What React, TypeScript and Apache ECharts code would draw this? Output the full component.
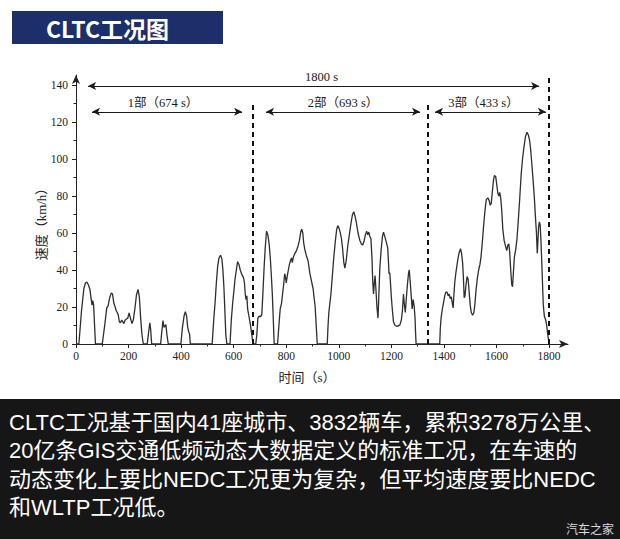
import React, { useEffect, useRef } from "react";
import * as echarts from "echarts";

// CLTC speed trace, [time (s), speed (km/h)]
const phase1: [number, number][] = [
  [0, 0], [11, 0], [21, 18], [30, 30], [36, 33], [41, 33.5], [47, 32], [53, 29.5], [58, 24], [61, 21], [64, 23.5], [67, 21], [70, 12], [74, 0],
  [100, 0], [110, 11], [117, 19.5], [122, 20.5], [128, 25], [134, 27.5], [139, 27], [144, 22], [149, 20], [153, 18], [157, 17], [161, 15.5], [165, 12], [169, 11.5], [174, 13], [178, 12], [182, 11], [187, 13], [192, 13.5], [197, 14], [202, 16.8], [207, 14], [213, 11], [218, 13], [224, 19], [230, 26.5], [236, 29.5], [241, 25.5], [246, 14], [251, 5], [256, 0],
  [271, 0], [276, 6], [281, 11.5], [284, 8], [288, 0],
  [322, 0], [326, 6], [331, 12.6], [335, 9], [338, 9.5], [342, 10.5], [346, 5], [351, 0],
  [399, 0], [405, 9], [411, 15], [416, 17.5], [421, 15], [425, 9], [429, 6.5], [432, 5.5], [435, 0],
  [518, 0], [524, 13], [529, 22], [534, 33], [539, 42], [544, 46.5], [550, 48], [555, 46], [559, 40], [563, 30], [567, 16], [570, 5], [574, 0],
  [586, 0], [591, 13], [596, 22], [601, 29], [605, 35], [610, 40], [615, 44.5], [620, 43], [625, 40], [631, 37.5], [637, 36], [641, 33], [644, 27], [647, 24], [650, 26], [653, 19], [658, 15], [663, 11], [668, 6], [672, 1.5], [676, 0],
];
const phase2: [number, number][] = [
  [684, 0], [688, 5], [692, 14], [697, 15], [703, 14.8], [707, 16], [711, 27], [716, 42], [720, 52], [725, 61], [730, 59], [735, 54], [740, 45], [744, 35], [747, 27], [751, 12], [754, 0],
  [767, 0], [772, 10], [777, 19], [782, 22], [786, 27], [790, 32], [794, 38], [797, 36], [800, 33], [804, 37], [808, 40], [812, 43], [816, 45], [820, 46.5], [823, 44], [827, 47], [833, 49], [839, 50.5], [845, 53], [850, 56], [855, 60.5], [859, 62], [863, 60], [866, 55], [870, 51.5], [876, 48], [883, 45], [890, 38], [896, 34], [902, 30], [906, 25], [910, 20], [914, 10], [918, 0],
  [956, 0], [959, 10], [962, 17], [966, 22], [970, 27], [976, 38], [981, 47], [987, 56], [992, 62], [996, 64], [1001, 62.5], [1005, 60.5], [1010, 57], [1014, 52], [1019, 44], [1023, 41], [1028, 45], [1034, 53], [1040, 59], [1046, 65], [1052, 70], [1057, 71.5], [1062, 69], [1067, 65.5], [1073, 60], [1080, 56], [1086, 54], [1091, 53.5], [1096, 55.5], [1101, 59], [1106, 61], [1110, 59], [1114, 60.5], [1118, 58], [1122, 57], [1126, 47], [1129, 34], [1132, 27], [1135, 33], [1138, 37], [1141, 30], [1145, 20], [1149, 14], [1152, 25], [1156, 41], [1161, 51], [1166, 58], [1170, 60.5], [1175, 58], [1180, 55.5], [1186, 52], [1189, 44], [1191, 38], [1194, 38.5], [1197, 32], [1200, 25], [1204, 18], [1208, 12], [1214, 10], [1222, 9.5], [1232, 10.2], [1238, 13], [1242, 18], [1246, 27], [1249, 22], [1253, 17], [1257, 25], [1261, 32], [1265, 38], [1268, 40], [1272, 33], [1276, 25], [1279, 19], [1283, 24], [1287, 20], [1290, 14], [1292, 6], [1294, 0],
];
const phase3: [number, number][] = [
  [1384, 0], [1386, 8], [1389, 14], [1394, 19], [1398, 22], [1403, 26], [1407, 28], [1412, 28], [1416, 26], [1420, 27], [1424, 24.5], [1428, 25.5], [1432, 22], [1435, 19.5], [1438, 27], [1441, 33], [1445, 38], [1449, 42], [1453, 46], [1458, 49.5], [1463, 51.5], [1467, 49], [1471, 44], [1474, 36], [1477, 25], [1480, 26], [1484, 32], [1488, 36.5], [1492, 35], [1496, 28], [1500, 21], [1504, 17], [1509, 15.5], [1514, 17], [1518, 22], [1522, 29], [1527, 35.5], [1532, 40], [1537, 43], [1541, 47], [1546, 55], [1551, 64], [1556, 72], [1561, 78], [1567, 79], [1572, 77.5], [1576, 75], [1580, 76], [1584, 82], [1588, 88], [1592, 91], [1597, 90.5], [1601, 86], [1605, 81.5], [1609, 80], [1612, 82], [1616, 79], [1620, 72], [1624, 62], [1629, 56], [1634, 53], [1639, 50.5], [1643, 53.5], [1647, 54], [1650, 50], [1654, 40], [1658, 32], [1661, 31], [1664, 38], [1668, 47], [1673, 51], [1678, 57], [1683, 67], [1688, 78], [1694, 92], [1699, 100], [1704, 106], [1710, 112], [1716, 114.5], [1721, 113], [1726, 110], [1730, 105], [1734, 98], [1739, 89], [1744, 79], [1748, 69], [1752, 60], [1755, 49], [1757, 54], [1760, 63], [1763, 66], [1766, 64.5], [1769, 56], [1772, 45], [1775, 33], [1778, 21], [1782, 15], [1787, 13], [1791, 10], [1795, 5], [1798, 2], [1800, 0],
];

const xMajorTicks = [0, 200, 400, 600, 800, 1000, 1200, 1400, 1600, 1800];
const xMinorTicks = [100, 300, 500, 700, 900, 1100, 1300, 1500, 1700];
const yMajorTicks = [0, 20, 40, 60, 80, 100, 120, 140];
const yMinorTicks = [10, 30, 50, 70, 90, 110, 130];

// phase boundaries (dashed lines): [time, top speed]
const boundaries: [number, number][] = [[674, 130], [1340, 130], [1800, 143.8]];
// span arrows: label, start time, end time, level
const spanLabels = ["1800 s", "1部（674 s）", "2部（693 s）", "3部（433 s）"];
const spanStarts = [46, 61, 723, 1366];
const spanEnds = [1762, 632, 1309, 1788];
const spanLevels = [139.5, 125.5, 125.5, 125.5];
const spanLabelPadding = [[0, 0, 0, 16], [0, 8, 0, 0], [0, 0, 0, 0], [0, 14, 0, 0]];

const bodyLines = [
  "CLTC工况基于国内41座城市、3832辆车，累积3278万公里、",
  "20亿条GIS交通低频动态大数据定义的标准工况，在车速的",
  "动态变化上要比NEDC工况更为复杂，但平均速度要比NEDC",
  "和WLTP工况低。",
];

const SERIF = '"Liberation Serif", "Times New Roman", "Noto Sans CJK SC", serif';
const SANS = '"Noto Sans CJK SC", "Noto Sans", sans-serif';
const BODY = '"Liberation Sans", "Noto Sans CJK SC", sans-serif';
const INK = "#222222";

export default function App() {
  const ref = useRef<HTMLDivElement>(null);
  useEffect(() => {
    if (!ref.current) return;
    const chart = echarts.init(ref.current, null, { renderer: "svg" });
    const allData = [...phase1, ...phase2, ...phase3];

    const markData: any[] = [];
    spanLabels.forEach((lab, i) => {
      markData.push([
        { coord: [spanStarts[i], spanLevels[i]], name: lab, label: { padding: spanLabelPadding[i] } },
        { coord: [spanEnds[i], spanLevels[i]] },
      ]);
    });
    boundaries.forEach(([t, top]) => {
      markData.push([
        {
          coord: [t, 0],
          symbol: "none",
          lineStyle: { type: [5, 4], width: 2, color: "#111" },
          label: { show: false },
        },
        { coord: [t, top], symbol: "none" },
      ]);
    });

    const bodyTexts = bodyLines.map((line, i) => ({
      type: "text",
      x: 9,
      y: 422 + i * 28.5,
      style: {
        text: line,
        fill: "#ffffff",
        fontSize: 22,
        fontFamily: BODY,
        align: "left",
        verticalAlign: "middle",
      },
    }));

    const plain = (v: number) => String(v);

    chart.setOption({
      animation: false,
      backgroundColor: "#ffffff",
      grid: { left: 76, right: 52, top: 75, bottom: 195 },
      xAxis: [
        {
          type: "value",
          min: 0,
          max: 1872,
          interval: 200,
          position: "bottom",
          axisLine: { show: true, symbol: ["none", "arrow"], symbolSize: [6, 9], lineStyle: { color: INK, width: 1 } },
          axisTick: { show: true, customValues: xMajorTicks, length: 4, lineStyle: { color: INK } },
          axisLabel: { customValues: xMajorTicks, formatter: plain, fontFamily: SERIF, fontSize: 11.5, color: INK, margin: 6 },
          splitLine: { show: false },
        },
        {
          type: "value",
          min: 0,
          max: 1872,
          position: "bottom",
          axisLine: { show: false },
          axisTick: { show: true, customValues: xMinorTicks, length: 2.5, lineStyle: { color: INK } },
          axisLabel: { show: false },
          splitLine: { show: false },
        },
      ],
      yAxis: [
        {
          type: "value",
          min: 0,
          max: 145.4,
          interval: 20,
          position: "left",
          axisLine: { show: true, symbol: ["none", "arrow"], symbolSize: [6, 9], lineStyle: { color: INK, width: 1 } },
          axisTick: { show: true, customValues: yMajorTicks, length: 4, lineStyle: { color: INK } },
          axisLabel: { customValues: yMajorTicks, formatter: plain, fontFamily: SERIF, fontSize: 11.5, color: INK, margin: 8 },
          splitLine: { show: false },
        },
        {
          type: "value",
          min: 0,
          max: 145.4,
          position: "left",
          axisLine: { show: false },
          axisTick: { show: true, customValues: yMinorTicks, length: 2.5, lineStyle: { color: INK } },
          axisLabel: { show: false },
          splitLine: { show: false },
        },
      ],
      series: [
        {
          type: "line",
          data: allData,
          symbol: "none",
          lineStyle: { color: "#2e2e2e", width: 1.3 },
          markLine: {
            silent: true,
            symbol: ["arrow", "arrow"],
            symbolSize: [6, 8],
            lineStyle: { color: "#1a1a1a", width: 1.2, type: "solid" },
            label: {
              show: true,
              position: "insideMiddleTop",
              formatter: "{b}",
              fontFamily: SERIF,
              fontSize: 12.5,
              color: "#1a1a1a",
              distance: 3,
            },
            emphasis: { disabled: true },
            data: markData,
          },
        },
      ],
      graphic: [
        { type: "rect", shape: { x: 12, y: 11, width: 211, height: 33 }, style: { fill: "#1c2f6b" } },
        {
          type: "text",
          x: 46,
          y: 28,
          style: { text: "CLTC工况图", fill: "#ffffff", fontSize: 23, fontWeight: "bold", fontFamily: SANS, align: "left", verticalAlign: "middle" },
        },
        {
          type: "text",
          x: 307,
          y: 377,
          style: { text: "时间（s）", fill: INK, fontSize: 13, fontFamily: SERIF, align: "center", verticalAlign: "middle" },
        },
        {
          type: "text",
          x: 41,
          y: 221,
          rotation: Math.PI / 2,
          style: { text: "速度（km/h）", fill: INK, fontSize: 13, fontFamily: SERIF, align: "center", verticalAlign: "middle" },
        },
        { type: "rect", shape: { x: 0, y: 399, width: 620, height: 140 }, style: { fill: "#161616" } },
        ...bodyTexts,
        {
          type: "text",
          x: 614,
          y: 528,
          style: { text: "汽车之家", fill: "#dddddd", fontSize: 12, fontFamily: SANS, align: "right", verticalAlign: "middle" },
        },
      ],
    });
    return () => chart.dispose();
  }, []);
  return <div ref={ref} style={{ position: "absolute", left: 0, top: 0, width: 620, height: 539 }} />;
}
